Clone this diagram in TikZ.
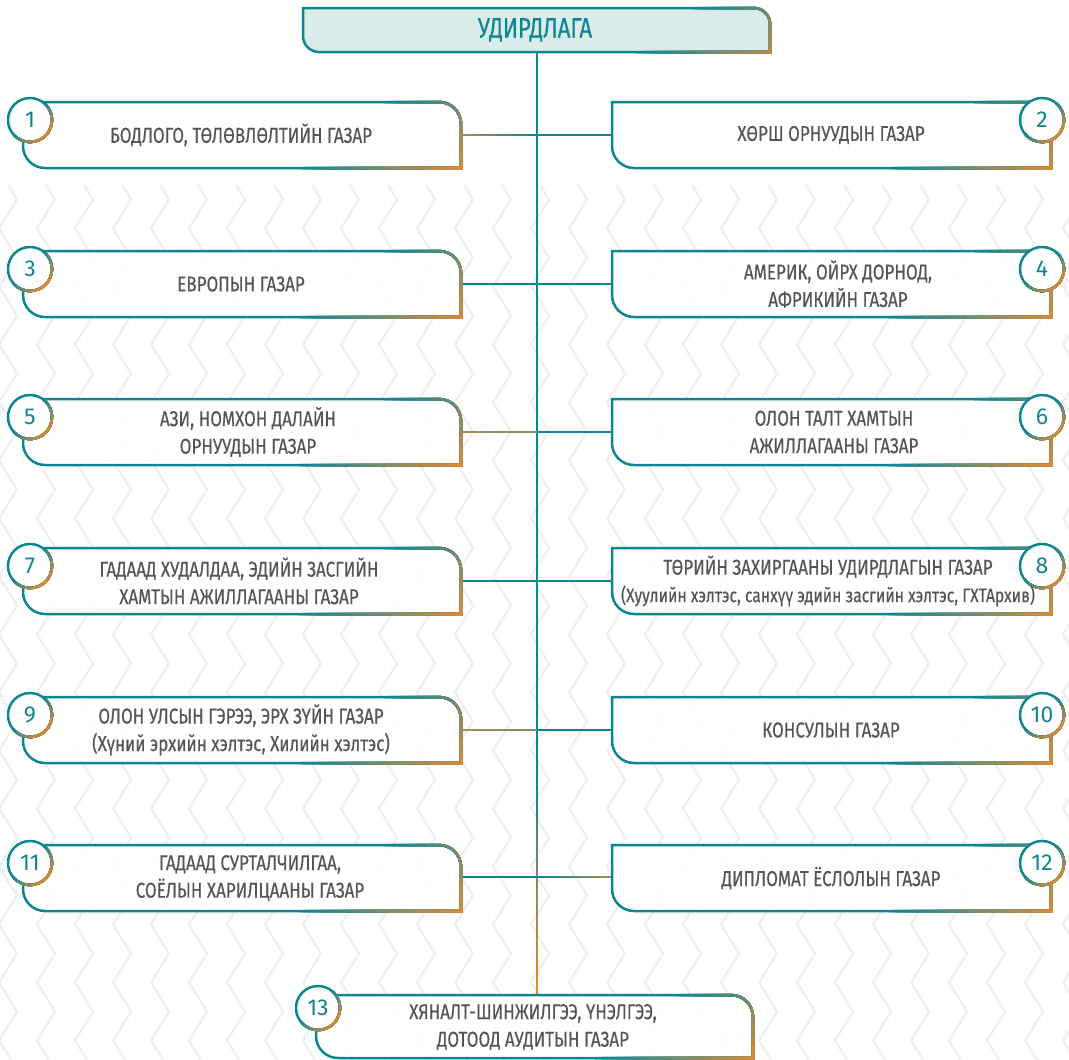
\documentclass[tikz,border=0pt]{standalone}
\usepackage{fontspec}
\setmainfont{Fira Sans}[FakeStretch=0.79,FakeBold=0.35]
\newfontfamily\numfont{Fira Sans}
\usetikzlibrary{decorations.pathmorphing,calc}
\definecolor{cteal}{HTML}{0E8691}
\definecolor{cmid}{HTML}{7E8C6A}
\definecolor{corange}{HTML}{E58A2E}
\definecolor{cbrown}{HTML}{A38D58}
\definecolor{ctext}{HTML}{555555}
\definecolor{ctitle}{HTML}{D9ECEA}
\definecolor{czig}{HTML}{F0F0F0}
% box with sharp top-left, rounded top-right, sharp bottom-right, rounded bottom-left (clockwise)
\newcommand\LPath[5]{({#1},{-(#2)}) -- ({#3-(#5)},{-(#2)}) arc[start angle=90,end angle=0,radius={#5}] -- ({#3},{-(#4)}) -- ({#1+(#5)},{-(#4)}) arc[start angle=270,end angle=180,radius={#5}] -- cycle}
% same, counter-clockwise
\newcommand\LPathRev[5]{({#1},{-(#2)}) -- ({#1},{-(#4-(#5))}) arc[start angle=180,end angle=270,radius={#5}] -- ({#3},{-(#4)}) -- ({#3},{-(#2+(#5))}) arc[start angle=0,end angle=90,radius={#5}] -- cycle}
% box with only bottom-left rounded (clockwise / counter-clockwise)
\newcommand\RPath[5]{({#1},{-(#2)}) -- ({#3},{-(#2)}) -- ({#3},{-(#4)}) -- ({#1+(#5)},{-(#4)}) arc[start angle=270,end angle=180,radius={#5}] -- cycle}
\newcommand\RPathRev[5]{({#1},{-(#2)}) -- ({#1},{-(#4-(#5))}) arc[start angle=180,end angle=270,radius={#5}] -- ({#3},{-(#4)}) -- ({#3},{-(#2)}) -- cycle}
% diagonal colour gradient: reference point (#1,#2) px, slope #3, teal at u<=#4, orange at u>=#5
\newcommand\gradfill[5]{%
  \fill[cteal] ({#1-700},{-(#2-200)}) rectangle ({#1+300},{-(#2+200)});
  \foreach \j in {0,...,23}{%
    \pgfmathsetmacro\uu{#4+(#5-#4)*\j/23}%
    \pgfmathsetmacro\ff{\j/23*200}%
    \ifdim\ff pt<100pt \edef\cc{cmid!\ff!cteal}\else \pgfmathsetmacro\gg{\ff-100}\edef\cc{corange!\gg!cmid}\fi
    \fill[color=\cc] ({#1+\uu+(#3)*150},{-(#2-150)}) -- ({#1+400},{-(#2-150)}) -- ({#1+400},{-(#2+150)}) -- ({#1+\uu-(#3)*150},{-(#2+150)}) -- cycle;
  }}
\newcommand\LBox[6]{%
  \fill[#6] \LPath{#1}{#2}{#3}{#4}{#5};
  \begin{scope}
    \clip \LPath{#1-1.25}{#2-1.25}{#3+1.25}{#4+1.25}{#5+1.25} \LPathRev{#1+1.25}{#2+1.25}{#3-1.25}{#4-1.25}{#5-1.25};
    \gradfill{#3}{#2}{1.29}{-75}{85}
  \end{scope}}
\newcommand\RBox[6]{%
  \fill[#6] \RPath{#1}{#2}{#3}{#4}{#5};
  \begin{scope}
    \clip \RPath{#1-1.25}{#2-1.25}{#3+1.25}{#4+1.25}{#5+1.25} \RPathRev{#1+1.25}{#2+1.25}{#3-1.25}{#4-1.25}{#5-1.25};
    \gradfill{#3}{#2}{1.29}{-75}{85}
  \end{scope}}
\newcommand\NumCirc[3]{%
  \fill[white] (#1,-#2) circle (22);
  \begin{scope}
    \clip (#1,-#2) circle (23.25) ({#1+20.75},-#2) arc[start angle=360,end angle=0,radius=20.75] -- cycle;
    \gradfill{#1}{#2}{1}{-4}{34}
  \end{scope}
  \node[numtxt] (c#3) at (#1,-#2) {#3};}
% gradient connector: from coordinate #1 to #2, colour #3 to #4
\newcommand\gradline[4]{%
  \draw[line width=2.6pt, color=#4!50!#3] (#1) -- (#2);
  \foreach \s in {0,...,19}{%
    \pgfmathsetmacro\pa{\s*5.26}%
    \draw[line width=2.6pt, color=#4!\pa!#3] ($(#1)!{\s/20}!(#2)$) -- ($(#1)!{(\s+1.1)/20}!(#2)$);
  }}
\tikzset{
  zig/.style={czig, line width=2.5, decorate, decoration={zigzag, segment length=58, amplitude=9}},
  lbl/.style={text=ctext, font=\fontsize{21.5}{27.5}\selectfont, align=center, inner sep=0pt},
  ttl/.style={text=cteal, font=\fontsize{28}{30}\selectfont, inner sep=0pt},
  numtxt/.style={text=cteal, font=\numfont\fontsize{23}{24}\selectfont, inner sep=0pt},
  conn/.style={cteal, line width=2.5}
}
\begin{document}
\begin{tikzpicture}[x=1pt,y=1pt]
\useasboundingbox (0,0) rectangle (1069,-1060);
% background pattern
\begin{scope}
  \clip (0,0) rectangle (1069,-1060);
  \foreach \k in {0,...,28}{
    \draw[zig] ({\k*38+8},-185) -- ({\k*38+8},-1090);
  }
\end{scope}
% trunk
\coordinate (tTop) at (537,-52);
\coordinate (tMid) at (537,-780);
\coordinate (tMid2) at (537,-880);
\coordinate (tBot) at (537,-995);
\draw[conn] (tTop) -- (tMid);
\gradline{tMid}{tMid2}{cteal}{cmid}
\gradline{tMid2}{tBot}{cmid}{corange}
% connector points
\foreach \i/\y in {1/135,2/284,3/432,4/581,5/730,6/877}{
  \coordinate (le\i) at (461,-\y);
  \coordinate (re\i) at (612,-\y);
  \coordinate (t\i) at (537,-\y);
}
\gradline{le1}{t1}{cbrown}{cteal}
\draw[conn] (t1) -- (re1);
\draw[conn] (le2) -- (re2);
\gradline{le3}{t3}{cbrown}{cmid}
\draw[conn] (t3) -- (re3);
\draw[conn] (le4) -- (re4);
\gradline{le5}{t5}{cbrown}{cmid}
\draw[conn] (t5) -- (re5);
\draw[conn] (le6) -- (t6);
\gradline{t6}{re6}{cteal}{cbrown}
% title
\LBox{303}{8}{770}{52}{16}{ctitle}
\node[ttl] (top) at (535,-30) {УДИРДЛАГА};
% left boxes
\LBox{23}{102}{461}{168}{22}{white,opacity=.88}
\LBox{23}{251}{461}{317}{22}{white,opacity=.88}
\LBox{23}{399}{461}{465}{22}{white,opacity=.88}
\LBox{23}{548}{461}{614}{22}{white,opacity=.88}
\LBox{23}{697}{461}{763}{22}{white,opacity=.88}
\LBox{23}{845}{461}{911}{22}{white,opacity=.88}
% right boxes
\RBox{612}{102}{1051}{168}{22}{white,opacity=.88}
\RBox{612}{251}{1051}{317}{22}{white,opacity=.88}
\RBox{612}{399}{1051}{465}{22}{white,opacity=.88}
\RBox{612}{548}{1051}{614}{22}{white,opacity=.88}
\RBox{612}{697}{1051}{763}{22}{white,opacity=.88}
\RBox{612}{845}{1051}{911}{22}{white,opacity=.88}
% bottom box
\LBox{316}{995}{753}{1058}{22}{white,opacity=.88}
% circles
\NumCirc{30}{120}{1}
\NumCirc{1042}{120}{2}
\NumCirc{30}{269}{3}
\NumCirc{1042}{269}{4}
\NumCirc{30}{417}{5}
\NumCirc{1042}{417}{6}
\NumCirc{30}{566}{7}
\NumCirc{1042}{566}{8}
\NumCirc{30}{715}{9}
\NumCirc{1042}{715}{10}
\NumCirc{30}{863}{11}
\NumCirc{1042}{863}{12}
\NumCirc{318}{1008}{13}
% texts
\node[lbl] (b1) at (241,-135) {БОДЛОГО, ТӨЛӨВЛӨЛТИЙН ГАЗАР};
\node[lbl] (b2) at (831,-135) {ХӨРШ ОРНУУДЫН ГАЗАР};
\node[lbl] (b3) at (241,-284) {ЕВРОПЫН ГАЗАР};
\node[lbl] (b4) at (838,-284) {АМЕРИК, ОЙРХ ДОРНОД,\\АФРИКИЙН ГАЗАР};
\node[lbl] (b5) at (248,-432) {АЗИ, НОМХОН ДАЛАЙН\\ОРНУУДЫН ГАЗАР};
\node[lbl] (b6) at (834,-432) {ОЛОН ТАЛТ ХАМТЫН\\АЖИЛЛАГААНЫ ГАЗАР};
\node[lbl] (b7) at (239,-581) {ГАДААД ХУДАЛДАА, ЭДИЙН ЗАСГИЙН\\ХАМТЫН АЖИЛЛАГААНЫ ГАЗАР};
\node[lbl] (b8) at (828,-581) {ТӨРИЙН ЗАХИРГААНЫ УДИРДЛАГЫН ГАЗАР\\{\fontsize{19.8}{27.5}\selectfont (Хуулийн хэлтэс, санхүү эдийн засгийн хэлтэс, ГХТАрхив)}};
\node[lbl] (b9) at (241,-730) {ОЛОН УЛСЫН ГЭРЭЭ, ЭРХ ЗҮЙН ГАЗАР\\(Хүний эрхийн хэлтэс, Хилийн хэлтэс)};
\node[lbl] (b10) at (831,-730) {КОНСУЛЫН ГАЗАР};
\node[lbl] (b11) at (250,-878) {ГАДААД СУРТАЛЧИЛГАА,\\СОЁЛЫН ХАРИЛЦААНЫ ГАЗАР};
\node[lbl] (b12) at (831,-878) {ДИПЛОМАТ ЁСЛОЛЫН ГАЗАР};
\node[lbl] (b13) at (533,-1027) {ХЯНАЛТ-ШИНЖИЛГЭЭ, ҮНЭЛГЭЭ,\\ДОТООД АУДИТЫН ГАЗАР};
\end{tikzpicture}
\end{document}
